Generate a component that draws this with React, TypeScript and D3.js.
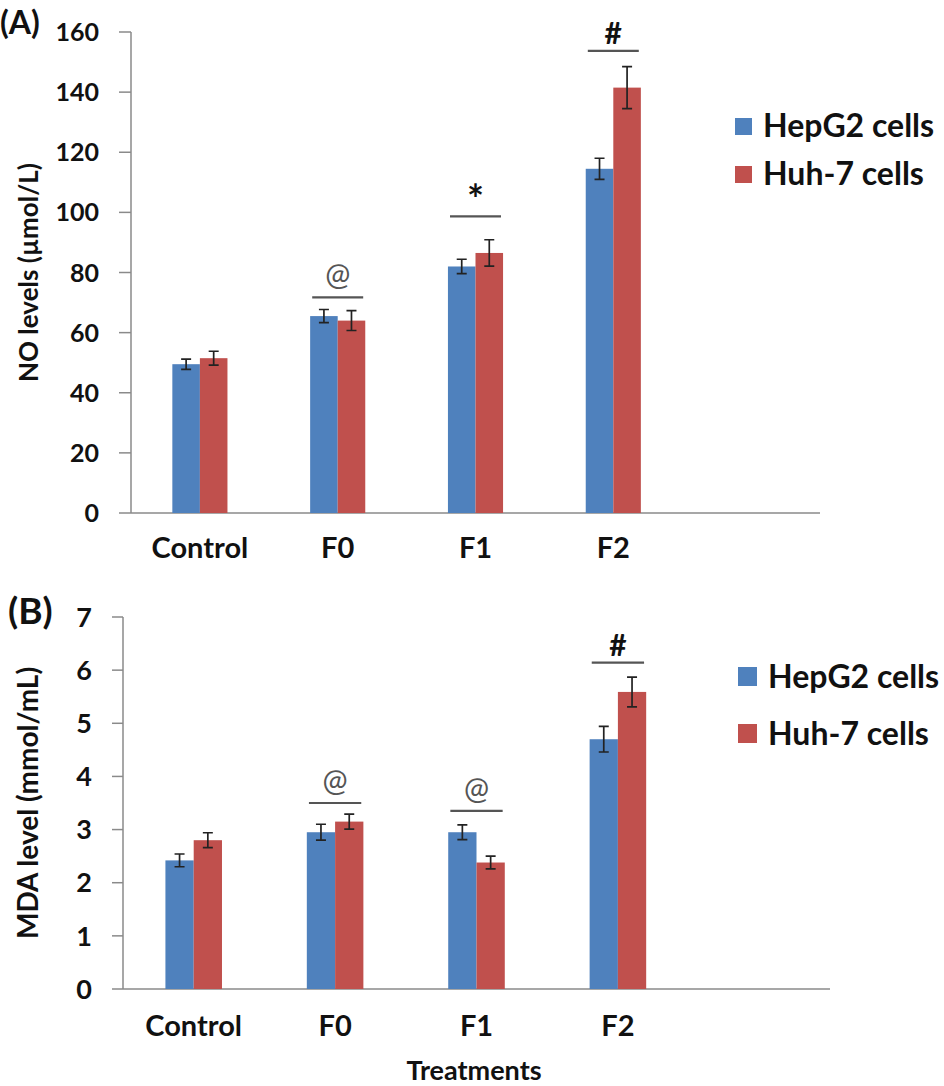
import { useRef, useEffect } from 'react'
import * as d3 from 'd3'

const categories = ['Control', 'F0', 'F1', 'F2']
const seriesNames = ['HepG2 cells', 'Huh-7 cells']
const COLORS = ['#4F81BD', '#C0504D']

// Panel A: NO levels
const noHepG2 = [49.5, 65.5, 82, 114.5]
const noHepG2Err = [1.7, 2.2, 2.4, 3.5]
const noHuh7 = [51.5, 64, 86.5, 141.5]
const noHuh7Err = [2.3, 3.3, 4.4, 7]
const noMarks = ['', '@', '*', '#']
const noMarkLevels = [0, 71.7, 98.7, 153.7]
const noTicks = [0, 20, 40, 60, 80, 100, 120, 140, 160]

// Panel B: MDA level
const mdaHepG2 = [2.42, 2.95, 2.95, 4.7]
const mdaHepG2Err = [0.12, 0.15, 0.14, 0.24]
const mdaHuh7 = [2.8, 3.15, 2.38, 5.59]
const mdaHuh7Err = [0.14, 0.14, 0.12, 0.28]
const mdaMarks = ['', '@', '@', '#']
const mdaMarkLevels = [0, 3.5, 3.35, 6.14]
const mdaTicks = [0, 1, 2, 3, 4, 5, 6, 7]

const FONT = 'Lato, "Open Sans", sans-serif'
const AXIS = '#8a8a8a'

type PanelCfg = {
  tag: string
  tagX: number
  tagY: number
  tagSize: number
  yLabel: string
  yLabelSize: number
  x0: number
  x1: number
  yTop: number
  yBottom: number
  max: number
  ticks: number[]
  tickSize: number
  tickLen: number
  catSize: number
  catY: number
  values: number[][]
  errors: number[][]
  marks: string[]
  markLevels: number[]
  legendX: number
  legendY: number
  legendGap: number
  legendBox: number
}

const panels: PanelCfg[] = [
  {
    tag: '(A)', tagX: 0, tagY: 34, tagSize: 32,
    yLabel: 'NO levels (\u00B5mol/L)', yLabelSize: 26,
    x0: 131, x1: 820, yTop: 32, yBottom: 513, max: 160,
    ticks: noTicks, tickSize: 25, tickLen: 12,
    catSize: 29, catY: 558,
    values: [noHepG2, noHuh7], errors: [noHepG2Err, noHuh7Err],
    marks: noMarks, markLevels: noMarkLevels,
    legendX: 735, legendY: 118, legendGap: 48, legendBox: 17,
  },
  {
    tag: '(B)', tagX: 8, tagY: 624, tagSize: 37,
    yLabel: 'MDA level (mmol/mL)', yLabelSize: 28,
    x0: 123, x1: 830, yTop: 617, yBottom: 989, max: 7,
    ticks: mdaTicks, tickSize: 27, tickLen: 11,
    catSize: 29, catY: 1036,
    values: [mdaHepG2, mdaHuh7], errors: [mdaHepG2Err, mdaHuh7Err],
    marks: mdaMarks, markLevels: mdaMarkLevels,
    legendX: 738, legendY: 667, legendGap: 57, legendBox: 19,
  },
]

function drawPanel(svg: d3.Selection<SVGSVGElement, unknown, null, undefined>, p: PanelCfg) {
  const g = svg.append('g')
  // four categories plus an empty slot on the right, like the original Excel chart
  const x = d3.scaleBand().domain([...categories, '']).range([p.x0, p.x1])
  const y = d3.scaleLinear().domain([0, p.max]).range([p.yBottom, p.yTop])
  const bw = x.bandwidth() * 0.2
  const cx = (c: string) => (x(c) as number) + x.bandwidth() / 2

  // y axis
  g.append('line')
    .attr('x1', p.x0).attr('x2', p.x0)
    .attr('y1', y(0)).attr('y2', y(p.max))
    .attr('stroke', AXIS).attr('stroke-width', 1.5)
  g.selectAll('.ytick')
    .data(p.ticks)
    .join('line')
    .attr('x1', p.x0 - p.tickLen).attr('x2', p.x0)
    .attr('y1', d => y(d)).attr('y2', d => y(d))
    .attr('stroke', AXIS).attr('stroke-width', 1.5)
  g.selectAll('.ylab')
    .data(p.ticks)
    .join('text')
    .attr('x', p.x0 - p.tickLen - 20)
    .attr('y', d => y(d))
    .attr('dy', '0.36em')
    .attr('text-anchor', 'end')
    .attr('font-family', FONT).attr('font-weight', 700)
    .attr('font-size', p.tickSize).attr('fill', '#111')
    .text(d => String(d))

  // x axis
  g.append('line')
    .attr('x1', p.x0).attr('x2', p.x1)
    .attr('y1', y(0)).attr('y2', y(0))
    .attr('stroke', AXIS).attr('stroke-width', 1.5)
  g.selectAll('.xlab')
    .data(categories)
    .join('text')
    .attr('x', d => cx(d))
    .attr('y', p.catY)
    .attr('text-anchor', 'middle')
    .attr('font-family', FONT).attr('font-weight', 700)
    .attr('font-size', p.catSize).attr('fill', '#111')
    .text(d => d)

  // bars + error bars
  p.values.forEach((vals, s) => {
    const bars = categories.map((c, i) => ({ c, v: vals[i], e: p.errors[s][i] }))
    const bx = (c: string) => cx(c) - bw + s * bw
    g.selectAll(`.bar${s}`)
      .data(bars)
      .join('rect')
      .attr('x', d => bx(d.c))
      .attr('y', d => y(d.v))
      .attr('width', bw)
      .attr('height', d => y(0) - y(d.v))
      .attr('fill', COLORS[s])
    const ex = (c: string) => bx(c) + bw / 2
    g.selectAll(`.err${s}`)
      .data(bars)
      .join('path')
      .attr('d', d => {
        const xc = ex(d.c)
        const hi = y(d.v + d.e)
        const lo = y(d.v - d.e)
        return `M${xc},${hi}V${lo}M${xc - 5},${hi}H${xc + 5}M${xc - 5},${lo}H${xc + 5}`
      })
      .attr('stroke', '#222').attr('stroke-width', 1.7).attr('fill', 'none')
  })

  // significance marks
  const marks = categories
    .map((c, i) => ({ c, m: p.marks[i], lv: p.markLevels[i] }))
    .filter(d => d.m !== '')
  g.selectAll('.sigline')
    .data(marks)
    .join('line')
    .attr('x1', d => cx(d.c) - x.bandwidth() * 0.185)
    .attr('x2', d => cx(d.c) + x.bandwidth() * 0.185)
    .attr('y1', d => y(d.lv)).attr('y2', d => y(d.lv))
    .attr('stroke', '#555').attr('stroke-width', 2.2)
  g.selectAll('.sigtxt')
    .data(marks)
    .join('text')
    .attr('x', d => cx(d.c))
    .attr('y', d => y(d.lv) - (d.m === '@' ? 12 : d.m === '*' ? 2 : 7))
    .attr('text-anchor', 'middle')
    .attr('font-family', FONT)
    .attr('font-weight', d => (d.m === '@' ? 400 : 700))
    .attr('font-size', d => (d.m === '*' ? 40 : 30))
    .attr('fill', d => (d.m === '@' ? '#555' : '#111'))
    .text(d => d.m)

  // y label
  g.append('text')
    .attr('transform', `translate(38,${(p.yTop + p.yBottom) / 2}) rotate(-90)`)
    .attr('text-anchor', 'middle')
    .attr('font-family', FONT).attr('font-weight', 700)
    .attr('font-size', p.yLabelSize).attr('fill', '#111')
    .text(p.yLabel)

  // panel tag
  g.append('text')
    .attr('x', p.tagX).attr('y', p.tagY)
    .attr('font-family', FONT).attr('font-weight', 700)
    .attr('font-size', p.tagSize).attr('fill', '#111')
    .text(p.tag)

  // legend
  seriesNames.forEach((name, s) => {
    const ly = p.legendY + s * p.legendGap
    g.append('rect')
      .attr('x', p.legendX).attr('y', ly)
      .attr('width', p.legendBox).attr('height', p.legendBox)
      .attr('fill', COLORS[s])
    g.append('text')
      .attr('x', p.legendX + p.legendBox + 11)
      .attr('y', ly + p.legendBox + 2)
      .attr('font-family', FONT).attr('font-weight', 700)
      .attr('font-size', 32).attr('fill', '#111')
      .text(name)
  })
}

export default function App() {
  const svgRef = useRef<SVGSVGElement>(null)

  useEffect(() => {
    if (!svgRef.current) return
    const svg = d3.select(svgRef.current)
    svg.selectAll('*').remove()
    panels.forEach(p => drawPanel(svg, p))

    svg.append('text')
      .attr('x', 474).attr('y', 1080)
      .attr('text-anchor', 'middle')
      .attr('font-family', FONT).attr('font-weight', 700)
      .attr('font-size', 27).attr('fill', '#111')
      .text('Treatments')
  }, [])

  return (
    <svg
      ref={svgRef}
      width={944}
      height={1086}
      style={{ position: 'absolute', left: 0, top: 0, background: '#fff' }}
    />
  )
}
